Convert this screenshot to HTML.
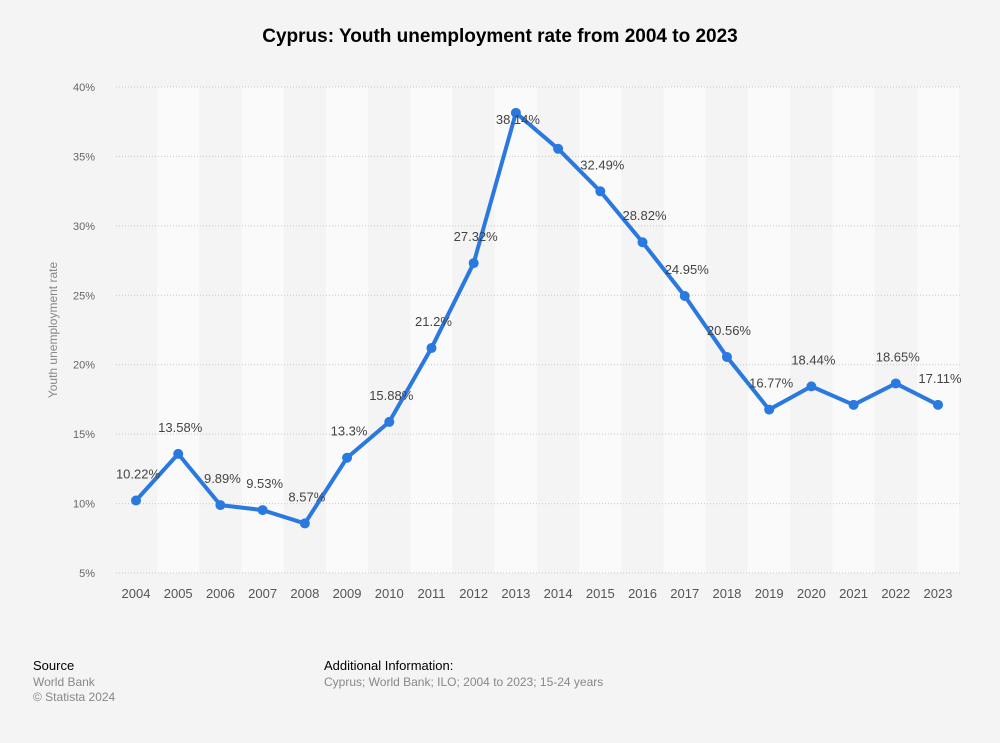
<!DOCTYPE html>
<html><head><meta charset="utf-8"><style>
body{margin:0;background:#f4f4f4;font-family:"Liberation Sans",sans-serif;}
#wrap{position:relative;width:1000px;height:743px;background:#f4f4f4;}
</style></head><body>
<div id="wrap">
<svg id="chart" width="1000" height="743" style="position:absolute;left:0;top:0">
<text x="500" y="42" text-anchor="middle" font-size="19" font-weight="bold" fill="#000">Cyprus: Youth unemployment rate from 2004 to 2023</text>
<text transform="translate(57,330) rotate(-90)" text-anchor="middle" font-size="12" fill="#888">Youth unemployment rate</text>
<g id="bands"></g><g id="grid"></g><g id="xticks"></g><g id="series"></g><g id="labels"></g>
<text x="33" y="670" font-size="13" fill="#000">Source</text>
<text x="33" y="686" font-size="12" fill="#888">World Bank</text>
<text x="33" y="701" font-size="12" fill="#888">© Statista 2024</text>
<text x="324" y="670" font-size="13" fill="#000">Additional Information:</text>
<text x="324" y="686" font-size="12" fill="#888">Cyprus; World Bank; ILO; 2004 to 2023; 15-24 years</text>
</svg>
</div>
<script>
const years=["2004","2005","2006","2007","2008","2009","2010","2011","2012","2013","2014","2015","2016","2017","2018","2019","2020","2021","2022","2023"];
const values=[10.22,13.58,9.89,9.53,8.57,13.3,15.88,21.2,27.32,38.14,35.55,32.49,28.82,24.95,20.56,16.77,18.44,17.11,18.65,17.11];
const valueLabels=["10.22%","13.58%","9.89%","9.53%","8.57%","13.3%","15.88%","21.2%","27.32%","38.14%","","32.49%","28.82%","24.95%","20.56%","16.77%","18.44%","","18.65%","17.11%"];
const yTicks=[5,10,15,20,25,30,35,40];
const NS="http://www.w3.org/2000/svg";
const x0=136,step=(938-136)/19;
function xs(i){return x0+i*step;}
function ys(v){return 573-(v-5)*(573-87)/35;}
function mk(tag,attrs,parent){const e=document.createElementNS(NS,tag);for(const k in attrs)e.setAttribute(k,attrs[k]);document.getElementById(parent).appendChild(e);return e;}
years.forEach((y,i)=>{
 const b=mk('rect',{x:xs(i)-step/2,y:ys(40),width:step,height:ys(5)-ys(40),fill:i%2?'#fafafa':'#f4f4f4'},'bands');
 
 
 const t=mk('text',{x:xs(i),y:598,'text-anchor':'middle','font-size':13,fill:'#555'},'xticks');
 t.textContent=y;
 
 
});
yTicks.forEach(v=>{
 const l=mk('line',{x1:116,x2:960,y1:ys(v),y2:ys(v),stroke:'#c8c8c8','stroke-dasharray':'1,2','stroke-width':1},'grid');
 
 
 const t=mk('text',{x:95,y:ys(v)+4,'text-anchor':'end','font-size':11,fill:'#666'},'grid');
 t.textContent=v+'%';
 
 
});
const p=mk('polyline',{points:values.map((v,i)=>xs(i)+','+ys(v)).join(' '),fill:'none',stroke:'#2a79e0','stroke-width':4,'stroke-linejoin':'round'},'series');


values.forEach((v,i)=>{
 const c=mk('circle',{cx:xs(i),cy:ys(v),r:5,fill:'#2a79e0'},'series');
 
 
 if(valueLabels[i]){
  const off=i===9?11:-22;
  const t=mk('text',{x:xs(i)+2,y:ys(v)+off,'text-anchor':'middle','font-size':13,fill:'#444'},'labels');
  t.textContent=valueLabels[i];
  
  
 }
});
</script>
</body></html>
